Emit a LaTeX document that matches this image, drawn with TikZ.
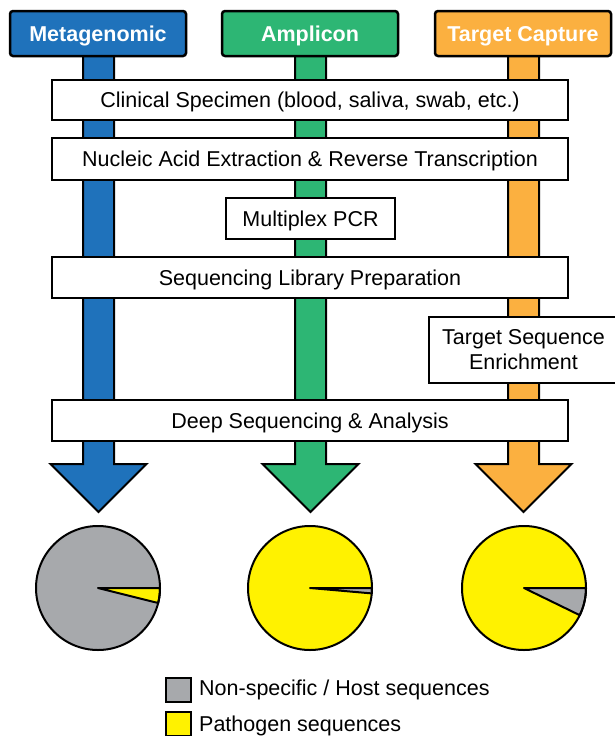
\documentclass[tikz,border=0pt]{standalone}
\usepackage{fontspec}
\setmainfont{Liberation Sans}
\definecolor{mblue}{HTML}{1F72BB}
\definecolor{mgreen}{HTML}{2DB674}
\definecolor{morange}{HTML}{FBB040}
\definecolor{mgray}{HTML}{A7A9AC}
\definecolor{myellow}{HTML}{FFF200}
\begin{document}
\begin{tikzpicture}[x=1pt,y=-1pt,
  txt/.style={font=\fontsize{21.5}{25}\selectfont},
  header/.style={draw=black, line width=2.5pt, rounded corners=3pt, minimum width=176pt, minimum height=45pt, inner sep=0pt, text=white, font=\fontsize{21.5}{25}\selectfont\bfseries, text height=15.5pt, text depth=0pt},
  stepbox/.style={draw=black, line width=2pt, fill=white, inner sep=0pt, align=center, txt},
  oneline/.style={text height=15.5pt, text depth=0pt},
  bar/.style={draw=black, line width=2pt, line join=miter},
  pie/.style={draw=black, line width=2pt, line join=round},
  legbox/.style={draw=black, line width=2pt, minimum width=25pt, minimum height=24pt, inner sep=0pt}
]
\useasboundingbox (0,0) rectangle (614,736);

% arrows (bars) behind everything
\foreach \cx/\col in {98.5/mblue, 310.5/mgreen, 523.5/morange}{
  \draw[bar, fill=\col] (\cx-15.5,50) -- (\cx+15.5,50) -- (\cx+15.5,464) -- (\cx+48,464)
     -- (\cx,512) -- (\cx-48,464) -- (\cx-15.5,464) -- cycle;
}

% headers
\node[header, fill=mblue] (meta) at (98,33.5) {Metagenomic};
\node[header, fill=mgreen] (ampl) at (310,33.5) {Amplicon};
\node[header, fill=morange] (targ) at (523,33.5) {Target Capture};

% step boxes
\node[stepbox, oneline, minimum width=516pt, minimum height=40pt] (clin) at (310,100) {Clinical Specimen (blood, saliva, swab, etc.)};
\node[stepbox, oneline, minimum width=516pt, minimum height=42pt] (nuc) at (310,159) {Nucleic Acid Extraction \& Reverse Transcription};
\node[stepbox, oneline, minimum width=169pt, minimum height=41pt] (pcr) at (310.5,218.5) {Multiplex PCR};
\node[stepbox, oneline, minimum width=516pt, minimum height=41pt] (lib) at (310,277.5) {Sequencing Library Preparation};
\node[stepbox, minimum width=189pt, minimum height=66pt] (tse) at (523.5,349.5) {Target Sequence\\Enrichment};
\node[stepbox, oneline, minimum width=516pt, minimum height=41pt] (deep) at (310,420.5) {Deep Sequencing \& Analysis};

% pies
\coordinate (p1) at (98,588);
\coordinate (p2) at (310,588);
\coordinate (p3) at (524,588);
\fill[mgray] (p1) circle[radius=62];
\draw[pie, fill=myellow] (p1) -- ++(62,0) arc[start angle=0, end angle=14, radius=62] -- cycle;
\draw[pie] (p1) circle[radius=62];

\fill[myellow] (p2) circle[radius=62];
\draw[pie, fill=mgray] (p2) -- ++(62,0) arc[start angle=0, end angle=5, radius=62] -- cycle;
\draw[pie] (p2) circle[radius=62];

\fill[myellow] (p3) circle[radius=62];
\draw[pie, fill=mgray] (p3) -- ++(62,0) arc[start angle=0, end angle=26, radius=62] -- cycle;
\draw[pie] (p3) circle[radius=62];

% legend
\node[legbox, fill=mgray] (lg1) at (178.5,690) {};
\node[legbox, fill=myellow] (lg2) at (178.5,724) {};
\node[txt, anchor=base west, inner sep=0pt] (lt1) at (199,695.5) {Non-specific / Host sequences};
\node[txt, anchor=base west, inner sep=0pt] (lt2) at (199,731.5) {Pathogen sequences};
\end{tikzpicture}
\end{document}
